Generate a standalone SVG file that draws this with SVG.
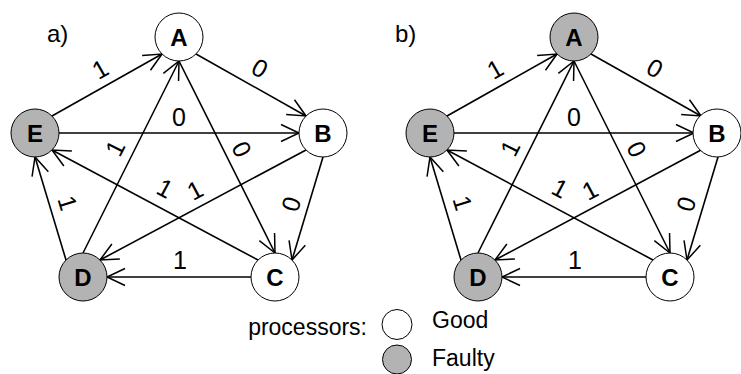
<svg xmlns="http://www.w3.org/2000/svg" width="741" height="374" viewBox="0 0 741 374">
<defs>
<marker id="arr" markerUnits="userSpaceOnUse" markerWidth="26" markerHeight="26" viewBox="-22 -13 26 26" refX="0" refY="0" orient="auto">
<path d="M-18,-8.5 L0,0 L-18,8.5" fill="none" stroke="#000" stroke-width="1.5"/>
</marker>
</defs>
<style>
.node circle{stroke:#000;stroke-width:1}
.good{fill:#fff}
.faulty{fill:#b3b3b3}
.nl{font-family:"Liberation Sans",Arial,sans-serif;font-weight:bold;font-size:24px;text-anchor:middle}
.edge line{stroke:#000;stroke-width:1.6;fill:none;marker-end:url(#arr)}
.el{font-family:"Liberation Sans",Arial,sans-serif;font-size:25px;text-anchor:middle}
.t{font-family:"Liberation Sans",Arial,sans-serif;font-size:24px}
.lg{font-family:"Liberation Sans",Arial,sans-serif;font-size:23px}
</style>
<rect width="741" height="374" fill="#fff"/>

<!-- diagram a -->
<text class="t" x="47" y="42">a)</text>
<g id="connectors-a" class="edge">
<line x1="52" y1="116" x2="162" y2="54"/>
<line x1="196" y1="54" x2="306" y2="116"/>
<line x1="59" y1="133" x2="299" y2="133"/>
<line x1="83" y1="253" x2="179" y2="61"/>
<line x1="179" y1="61" x2="275" y2="253"/>
<line x1="306" y1="150" x2="100" y2="260"/>
<line x1="258" y1="260" x2="52" y2="150"/>
<line x1="323" y1="157" x2="292" y2="260"/>
<line x1="251" y1="277" x2="107" y2="277"/>
<line x1="66" y1="260" x2="35" y2="157"/>
</g>
<g id="labels-a">
<text class="el" transform="translate(100,69) rotate(-30)" y="9">1</text>
<text class="el" transform="translate(260,68) rotate(29)" y="9">0</text>
<text class="el" transform="translate(179,117)" y="9">0</text>
<text class="el" transform="translate(115,148) rotate(-63)" y="9">1</text>
<text class="el" transform="translate(242,149) rotate(63)" y="9">0</text>
<text class="el" transform="translate(195,190) rotate(-28)" y="9">1</text>
<text class="el" transform="translate(165,188) rotate(28)" y="9">1</text>
<text class="el" transform="translate(291,204) rotate(-73)" y="9">0</text>
<text class="el" transform="translate(180,260)" y="9">1</text>
<text class="el" transform="translate(68,203) rotate(73)" y="9">1</text>
</g>
<g id="a-A" class="node"><circle class="good" cx="179" cy="37" r="24"/><text class="nl" x="179" y="46">A</text></g>
<g id="a-B" class="node"><circle class="good" cx="323" cy="133" r="24"/><text class="nl" x="323" y="142">B</text></g>
<g id="a-C" class="node"><circle class="good" cx="275" cy="277" r="24"/><text class="nl" x="275" y="286">C</text></g>
<g id="a-D" class="node"><circle class="faulty" cx="83" cy="277" r="24"/><text class="nl" x="83" y="286">D</text></g>
<g id="a-E" class="node"><circle class="faulty" cx="35" cy="133" r="24"/><text class="nl" x="35" y="142">E</text></g>

<!-- diagram b -->
<g transform="translate(395,0)">
<text class="t" x="0" y="42">b)</text>
<g id="connectors-b" class="edge">
<line x1="52" y1="116" x2="162" y2="54"/>
<line x1="196" y1="54" x2="306" y2="116"/>
<line x1="59" y1="133" x2="299" y2="133"/>
<line x1="83" y1="253" x2="179" y2="61"/>
<line x1="179" y1="61" x2="275" y2="253"/>
<line x1="306" y1="150" x2="100" y2="260"/>
<line x1="258" y1="260" x2="52" y2="150"/>
<line x1="323" y1="157" x2="292" y2="260"/>
<line x1="251" y1="277" x2="107" y2="277"/>
<line x1="66" y1="260" x2="35" y2="157"/>
</g>
<g id="labels-b">
<text class="el" transform="translate(100,69) rotate(-30)" y="9">1</text>
<text class="el" transform="translate(260,68) rotate(29)" y="9">0</text>
<text class="el" transform="translate(179,117)" y="9">0</text>
<text class="el" transform="translate(115,148) rotate(-63)" y="9">1</text>
<text class="el" transform="translate(242,149) rotate(63)" y="9">0</text>
<text class="el" transform="translate(195,190) rotate(-28)" y="9">1</text>
<text class="el" transform="translate(165,188) rotate(28)" y="9">1</text>
<text class="el" transform="translate(291,204) rotate(-73)" y="9">0</text>
<text class="el" transform="translate(180,260)" y="9">1</text>
<text class="el" transform="translate(68,203) rotate(73)" y="9">1</text>
</g>
<g id="b-A" class="node"><circle class="faulty" cx="179" cy="37" r="24"/><text class="nl" x="179" y="46">A</text></g>
<g id="b-B" class="node"><circle class="good" cx="322" cy="133" r="24"/><text class="nl" x="322" y="142">B</text></g>
<g id="b-C" class="node"><circle class="good" cx="275" cy="277" r="24"/><text class="nl" x="275" y="286">C</text></g>
<g id="b-D" class="node"><circle class="faulty" cx="83" cy="277" r="24"/><text class="nl" x="83" y="286">D</text></g>
<g id="b-E" class="node"><circle class="faulty" cx="35" cy="133" r="24"/><text class="nl" x="35" y="142">E</text></g>
</g>

<!-- legend -->
<g id="legend">
<text class="lg" x="367" y="335" text-anchor="end">processors:</text>
<g id="legend-good" class="node"><circle class="good" cx="397" cy="324.5" r="15"/><text class="lg" x="432" y="328">Good</text></g>
<g id="legend-faulty" class="node"><circle class="faulty" cx="397" cy="359.5" r="14.5"/><text class="lg" x="432" y="366">Faulty</text></g>
</g>
</svg>
